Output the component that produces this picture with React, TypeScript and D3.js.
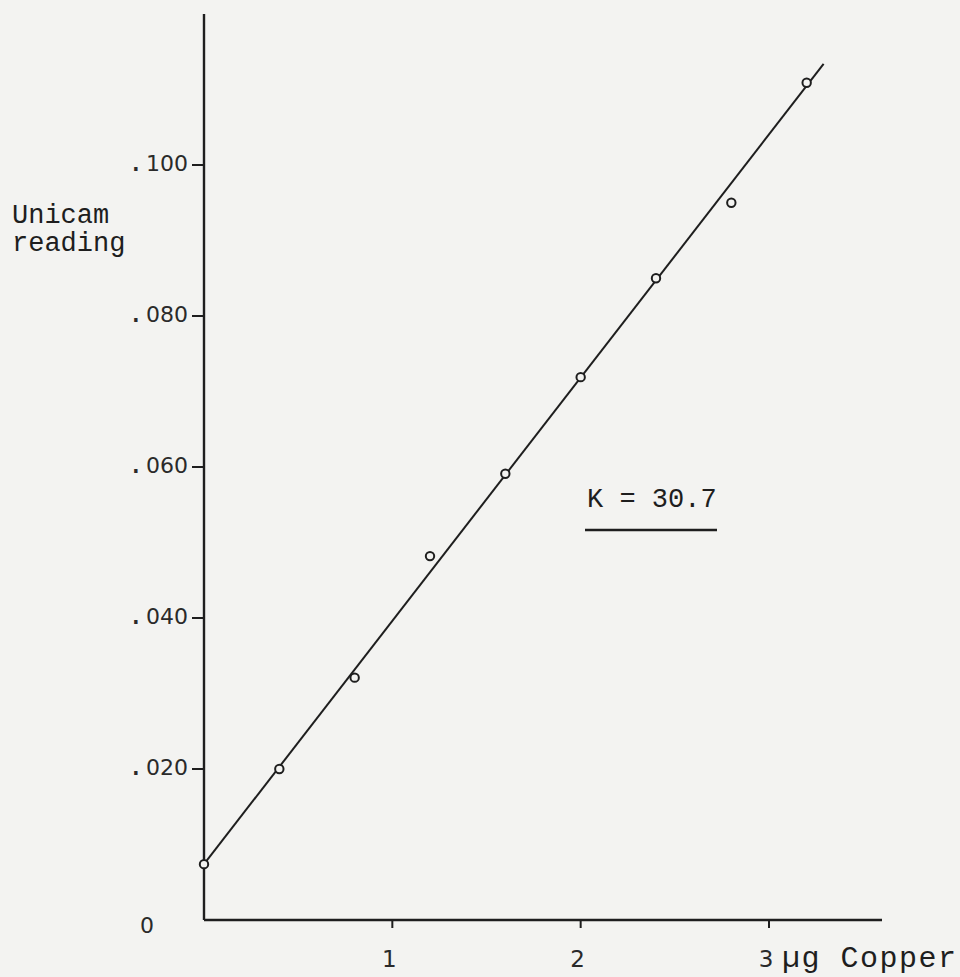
import React from "react";
import * as d3 from "d3";

// Calibration data: copper mass (µg) against Unicam absorbance reading
const copperUg = [0, 0.4, 0.8, 1.2, 1.6, 2.0, 2.4, 2.8, 3.2];
const unicamReading = [0.0074, 0.020, 0.0321, 0.0482, 0.0591, 0.0719, 0.085, 0.095, 0.1109];

// Fitted calibration line end points
const fitCopper = [0, 3.29];
const fitReading = [0.0074, 0.1134];

const xTicks = [1, 2, 3];
const xTickLabels = ["1", "2", "3"];
const yTicks = [0.02, 0.04, 0.06, 0.08, 0.1];
const yTickLabels = ["020", "040", "060", "080", "100"];

const W = 960;
const H = 977;
const ink = "#1e1e1e";
const paper = "#f3f3f1";
const typewriter = "'Liberation Mono', 'DejaVu Sans Mono', monospace";
const lettering = "'DejaVu Sans', 'Liberation Sans', sans-serif";

export default function App() {
  const x = d3.scaleLinear().domain([0, 3.6]).range([204, 882]);
  const y = d3.scaleLinear().domain([0, 0.12]).range([920, 14]);

  const points = copperUg.map((c, i) => ({ c, r: unicamReading[i] }));
  const fit = fitCopper.map((c, i) => ({ c, r: fitReading[i] }));
  const line = d3
    .line<{ c: number; r: number }>()
    .x((d) => x(d.c))
    .y((d) => y(d.r));

  const x0 = x(0);
  const y0 = y(0);

  return (
    <svg
      width={W}
      height={H}
      viewBox={`0 0 ${W} ${H}`}
      style={{ position: "absolute", left: 0, top: 0, background: paper }}
    >
      <rect width={W} height={H} fill={paper} />

      {/* axes */}
      <line x1={x0} y1={y(0.12)} x2={x0} y2={y0} stroke={ink} strokeWidth={2.4} />
      <line x1={x0} y1={y0} x2={x(3.6)} y2={y0} stroke={ink} strokeWidth={2.4} />

      {/* y ticks and labels */}
      {yTicks.map((t, i) => (
        <g key={t}>
          <line x1={x0 - 12} y1={y(t)} x2={x0} y2={y(t)} stroke={ink} strokeWidth={2} />
          <text
            x={x0 - 16}
            y={y(t) + 6}
            textAnchor="end"
            fontFamily={lettering}
            fontSize={22}
            fill="#2a2a2a"
          >
            <tspan fontSize={32}>.</tspan>
            <tspan dx={5}>{yTickLabels[i]}</tspan>
          </text>
        </g>
      ))}
      <text x={147} y={y0 + 13} textAnchor="middle" fontFamily={lettering} fontSize={22} fill="#2a2a2a">
        0
      </text>

      {/* x ticks and labels */}
      {xTicks.map((t, i) => (
        <g key={t}>
          <line x1={x(t)} y1={y0} x2={x(t)} y2={y0 + 8} stroke={ink} strokeWidth={2} />
          <text
            x={x(t) - 3}
            y={y0 + 47}
            textAnchor="middle"
            fontFamily={lettering}
            fontSize={23}
            fill="#2a2a2a"
          >
            {xTickLabels[i]}
          </text>
        </g>
      ))}

      {/* axis titles */}
      <text x={782} y={y0 + 47} fontFamily={typewriter} fontSize={30} letterSpacing={1.5} fill={ink}>
        µg Copper
      </text>
      <text fontFamily={typewriter} fontSize={27} fill={ink}>
        <tspan x={12} y={223}>Unicam</tspan>
        <tspan x={12} y={251}>reading</tspan>
      </text>

      {/* fitted line */}
      <path d={line(fit) ?? ""} fill="none" stroke={ink} strokeWidth={2} />

      {/* measured points */}
      {points.map((p) => (
        <circle
          key={p.c}
          cx={x(p.c)}
          cy={y(p.r)}
          r={4.2}
          fill={paper}
          stroke={ink}
          strokeWidth={2}
        />
      ))}

      {/* slope annotation */}
      <text x={587} y={507} fontFamily={typewriter} fontSize={27} fill={ink}>
        K = 30.7
      </text>
      <line x1={585} y1={530} x2={717} y2={530} stroke={ink} strokeWidth={2.6} />
    </svg>
  );
}
